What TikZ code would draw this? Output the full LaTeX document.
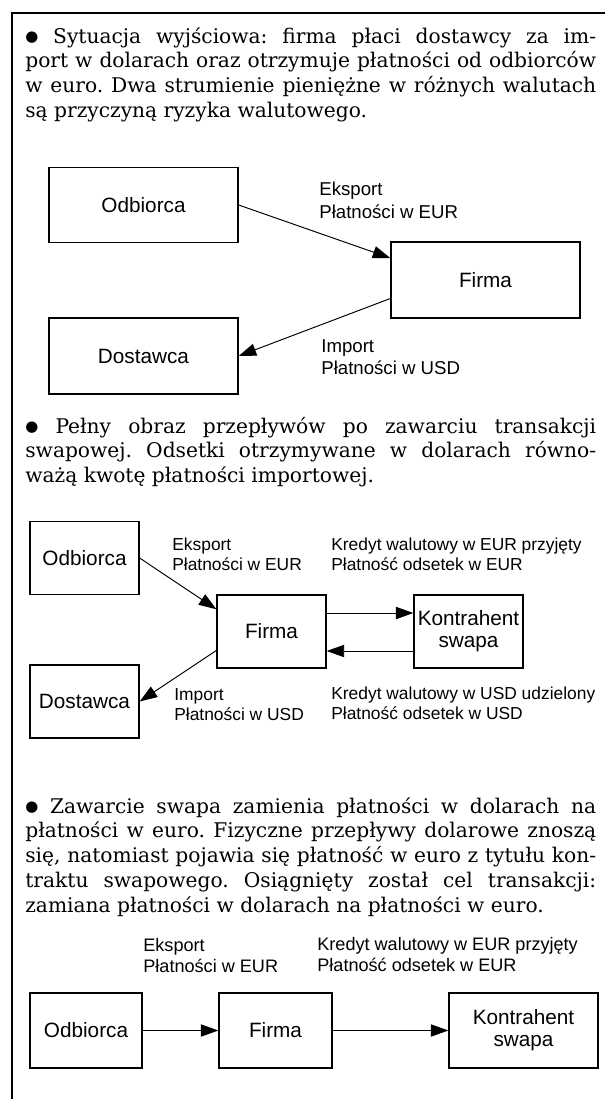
\documentclass[tikz,border=0pt]{standalone}
\usepackage{fontspec}
\setmainfont{DejaVu Serif}
\newfontfamily\lblfont{Liberation Sans}
\newfontfamily\symfont{DejaVu Sans}
\usetikzlibrary{arrows.meta}
\frenchspacing
\newlength{\txtw}\setlength{\txtw}{11.42cm}
\newcommand{\opisfont}{\fontsize{11.5}{14.2}\selectfont}
\newcommand{\kropka}{\raisebox{0.6pt}{\symfont\fontsize{8.5}{8.5}\selectfont ●}}
% wiersz wyjustowany do pelnej szerokosci / ostatni wiersz akapitu
\newcommand{\jl}[1]{\hbox to\txtw{\spaceskip=0.3em plus 1fil minus 0.12em\relax #1}}
\newcommand{\ostatni}[1]{\hbox{#1}}

\begin{document}
\begin{tikzpicture}[x=0.02cm,y=-0.02cm,
  box/.style={draw,line width=0.75pt,minimum width=2.18cm,minimum height=1.46cm,inner sep=0pt,align=center,
    font=\lblfont\fontsize{11.8}{12.5}\selectfont},
  lbl/.style={anchor=west,align=left,inner sep=0pt,font=\lblfont\fontsize{10.3}{12}\selectfont},
  txt/.style={anchor=base west,inner sep=0pt,font=\opisfont},
  flow/.style={-{Triangle[length=10pt,width=7pt]},line width=0.55pt}]
  \useasboundingbox (0,0) rectangle (605,1099);
  \draw[line width=0.85pt] (12,1110) -- (12,13) -- (615,13);

  % stan wyjsciowy
  \node[txt] (opis1) at (25,43) {\vtop{%
    \jl{\kropka{} Sytuacja wyjściowa: firma płaci dostawcy za im-}
    \jl{port w dolarach oraz otrzymuje płatności od odbiorców}
    \jl{w euro. Dwa strumienie pieniężne w różnych walutach}
    \ostatni{są przyczyną ryzyka walutowego.}}};
  \node[box,minimum width=3.78cm,minimum height=1.5cm] (odb1) at (143.5,205) {Odbiorca};
  \node[box,minimum width=3.78cm,minimum height=1.52cm] (fir1) at (485.5,280) {Firma};
  \node[box,minimum width=3.78cm,minimum height=1.52cm] (dos1) at (143.5,356) {Dostawca};
  \draw[flow] (odb1.east) -- (fir1.167);
  \draw[flow] (fir1.191) -- (dos1.east);
  \node[lbl,font=\lblfont\fontsize{10.6}{13}\selectfont] (eks1) at (319,200) {Eksport\\Płatności w EUR};
  \node[lbl,font=\lblfont\fontsize{10.6}{12.2}\selectfont] (imp1) at (321,357) {Import\\Płatności w USD};

  % pelny obraz z swapem
  \node[txt] (opis2) at (25,433) {\vtop{%
    \jl{\kropka{} Pełny obraz przepływów po zawarciu transakcji}
    \jl{swapowej. Odsetki otrzymywane w dolarach równo-}
    \ostatni{ważą kwotę płatności importowej.}}};
  \node[box] (odb2) at (84.5,558) {Odbiorca};
  \node[box] (fir2) at (271.5,631.5) {Firma};
  \node[box] (kon2) at (468.5,631.5) {Kontrahent\\swapa};
  \node[box] (dos2) at (84.5,701.5) {Dostawca};
  \draw[flow] (odb2.east) -- (fir2.158);
  \draw[flow] (fir2.199) -- (dos2.east);
  \draw[flow] ([yshift=0.37cm]fir2.east) -- ([yshift=0.37cm]kon2.west);
  \draw[flow] ([yshift=-0.39cm]kon2.west) -- ([yshift=-0.39cm]fir2.east);
  \node[lbl,font=\lblfont\fontsize{9.9}{11.4}\selectfont] (eks2) at (172,554) {Eksport\\Płatności w EUR};
  \node[lbl,font=\lblfont\fontsize{9.9}{11.4}\selectfont] (imp2) at (174,705) {Import\\Płatności w USD};
  \node[lbl,font=\lblfont\fontsize{9.9}{11.4}\selectfont] (kre2) at (331,554.5) {Kredyt walutowy w EUR przyjęty\\Płatność odsetek w EUR};
  \node[lbl,font=\lblfont\fontsize{9.9}{11.4}\selectfont] (kru2) at (331,703.5) {Kredyt walutowy w USD udzielony\\Płatność odsetek w USD};

  % wynik
  \node[txt] (opis3) at (25,813) {\vtop{%
    \jl{\kropka{} Zawarcie swapa zamienia płatności w dolarach na}
    \jl{płatności w euro. Fizyczne przepływy dolarowe znoszą}
    \jl{się, natomiast pojawia się płatność w euro z tytułu kon-}
    \jl{traktu swapowego. Osiągnięty został cel transakcji:}
    \ostatni{zamiana płatności w dolarach na płatności w euro.}}};
  \node[box,minimum width=2.24cm,minimum height=1.5cm] (odb3) at (86,1030.5) {Odbiorca};
  \node[box,minimum width=2.26cm,minimum height=1.5cm] (fir3) at (275.5,1030.5) {Firma};
  \node[box,minimum width=2.98cm,minimum height=1.5cm] (kon3) at (523.5,1030.5) {Kontrahent\\swapa};
  \draw[flow] (odb3) -- (fir3);
  \draw[flow] (fir3) -- (kon3);
  \node[lbl] (eks3) at (143,955.5) {Eksport\\Płatności w EUR};
  \node[lbl] (kre3) at (317,954.5) {Kredyt walutowy w EUR przyjęty\\Płatność odsetek w EUR};
\end{tikzpicture}
\end{document}
